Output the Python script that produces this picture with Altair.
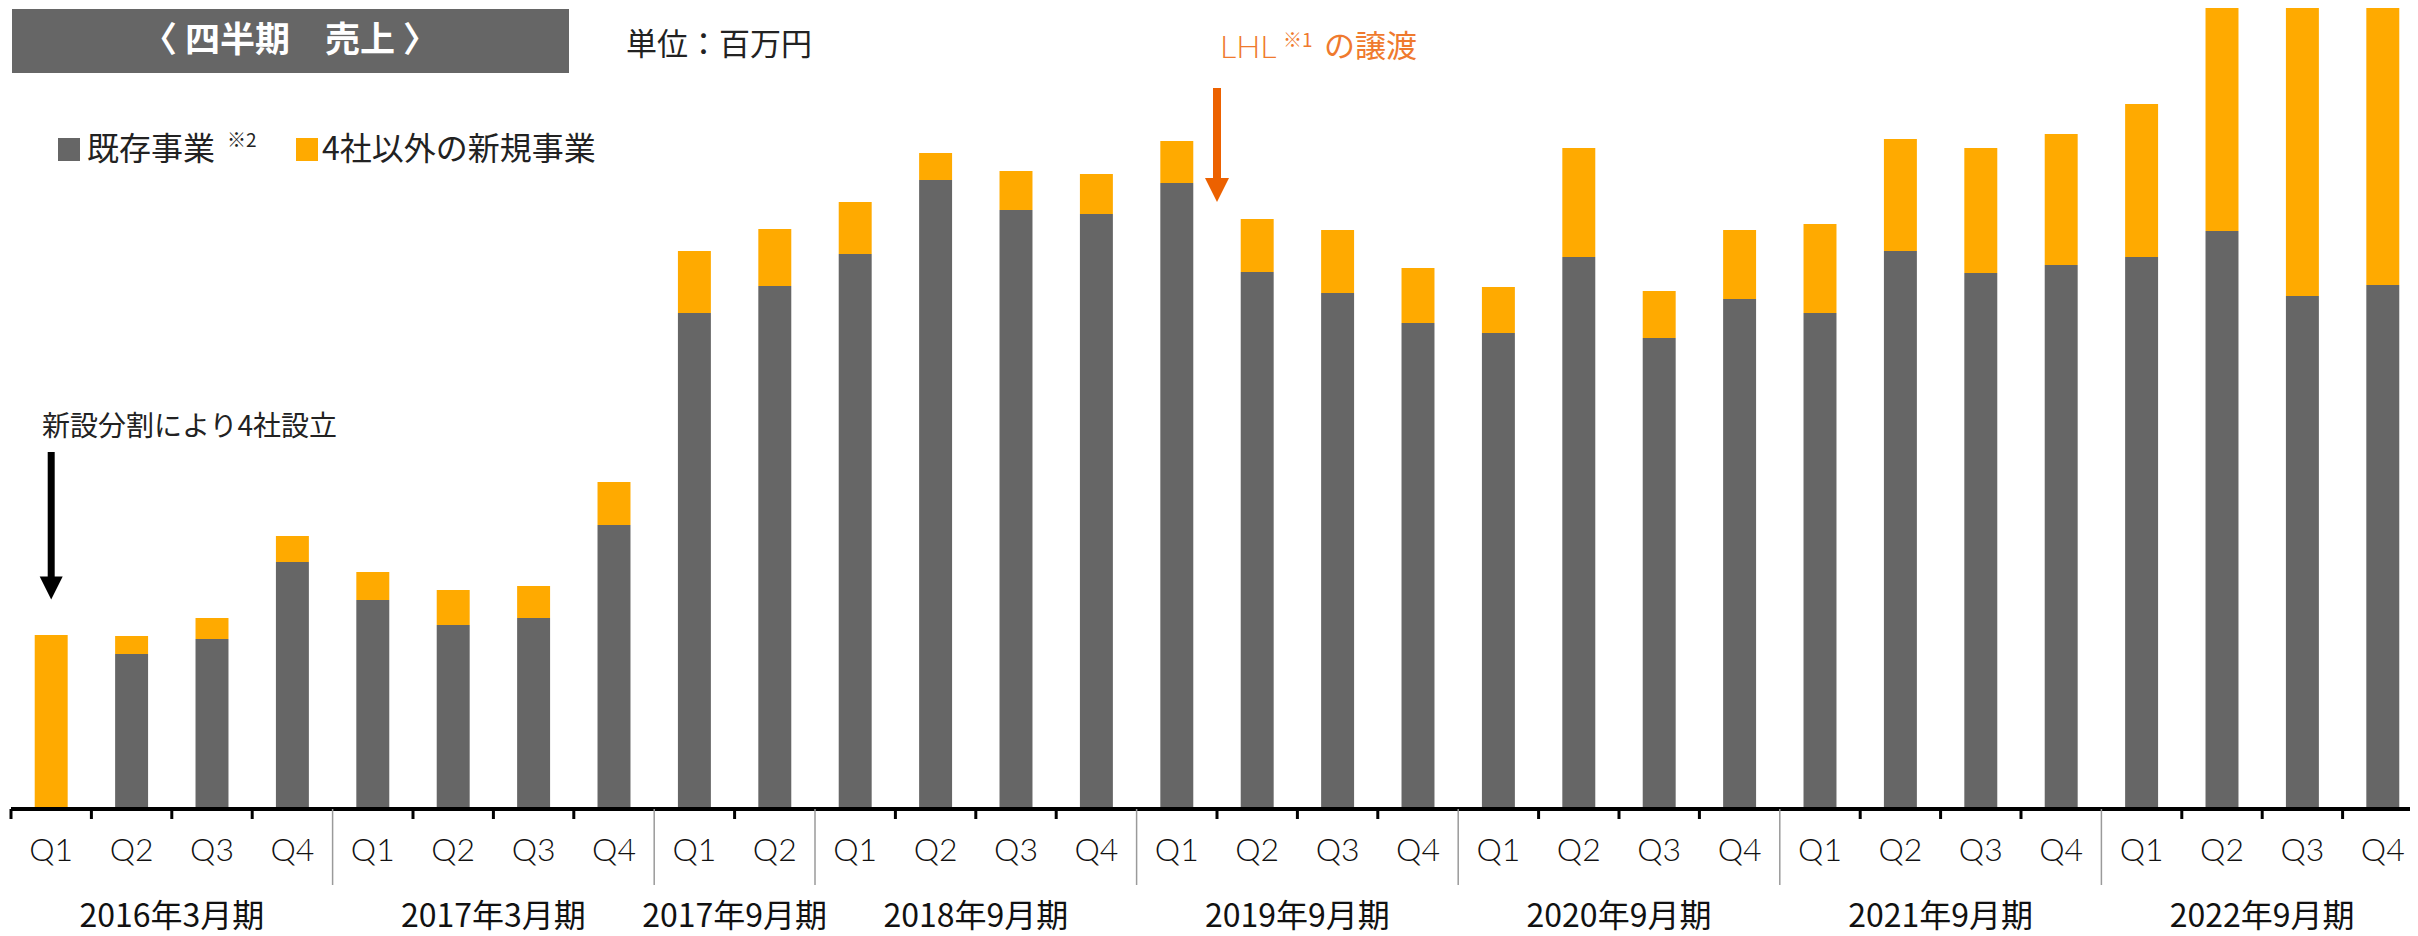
import altair as alt
import pandas as pd

# ---- data -------------------------------------------------------------
periods = (["2016年3月期"] * 4 + ["2017年3月期"] * 4 + ["2017年9月期"] * 2 +
           ["2018年9月期"] * 4 + ["2019年9月期"] * 4 + ["2020年9月期"] * 4 +
           ["2021年9月期"] * 4 + ["2022年9月期"] * 4)
quarters = (["Q1", "Q2", "Q3", "Q4"] * 2 + ["Q1", "Q2"] + ["Q1", "Q2", "Q3", "Q4"] * 5)
existing = [0, 153, 168, 245, 207, 182, 189, 282, 494, 521, 553, 627, 597, 593, 624,
            535, 514, 484, 474, 550, 469, 508, 494, 556, 534, 542, 550, 576, 511, 522]
new_biz = [172, 18, 21, 26, 28, 35, 32, 43, 62, 57, 52, 27, 39, 40, 42,
           53, 63, 55, 46, 109, 47, 69, 89, 112, 125, 131, 153, 300, 360, 380]
series_names = ["既存事業", "4社以外の新規事業"]
group_names = ["2016年3月期", "2017年3月期", "2017年9月期", "2018年9月期",
               "2019年9月期", "2020年9月期", "2021年9月期", "2022年9月期"]

keys = [f"{p} {q}" for p, q in zip(periods, quarters)]

rows = []
for k, e, n in zip(keys, existing, new_biz):
    rows.append({"key": k, "series": series_names[0], "value": e, "ord": 0})
    rows.append({"key": k, "series": series_names[1], "value": n, "ord": 1})
bars_df = pd.DataFrame(rows)

qdf = pd.DataFrame({"key": keys, "q": quarters})

# group start keys / label anchors (centre of each group = boundary at its middle)
group_start = []
group_anchor = []
for g in group_names:
    idx = [i for i, p in enumerate(periods) if p == g]
    group_start.append(keys[idx[0]])
    group_anchor.append(keys[idx[0] + len(idx) // 2])
glabel_df = pd.DataFrame({"label": group_names, "anchor": group_anchor})
sep_df = pd.DataFrame({"key": group_start[1:]})
tick_df = pd.DataFrame({"key": [k for k in keys if k not in group_start[1:]]})

W, H = 2399, 799
JP = "Noto Sans CJK JP"
LAT = "Lato"

xscale = alt.Scale(domain=keys, range=[0, 2412], paddingInner=0, paddingOuter=0)
one = pd.DataFrame({"a": [0]})

bars = alt.Chart(bars_df).mark_bar(clip=True, width=alt.RelativeBandSize(0.41)).encode(
    x=alt.X("key:N", scale=xscale, axis=None, sort=None),
    y=alt.Y("value:Q", stack="zero", scale=alt.Scale(domain=[0, H], nice=False), axis=None),
    color=alt.Color("series:N", scale=alt.Scale(domain=series_names, range=["#666666", "#FFAA00"]), legend=None),
    order=alt.Order("ord:Q"),
)

axis_line = alt.Chart(one).mark_rule(color="#000000", strokeWidth=4).encode(
    x=alt.value(0), x2=alt.value(W + 6), y=alt.value(H + 2))

ticks = alt.Chart(tick_df).mark_rule(color="#000000", strokeWidth=3).encode(
    x=alt.X("key:N", scale=xscale, axis=None, bandPosition=0),
    y=alt.value(H + 2), y2=alt.value(H + 12))

seps = alt.Chart(sep_df).mark_rule(color="#9a9a9a", strokeWidth=1.5).encode(
    x=alt.X("key:N", scale=xscale, axis=None, bandPosition=0),
    y=alt.value(H + 2), y2=alt.value(H + 78))

qlabels = alt.Chart(qdf).mark_text(font=LAT, fontWeight=300, fontSize=32, color="#111111",
                                   baseline="middle", align="center").encode(
    x=alt.X("key:N", scale=xscale, axis=None),
    y=alt.value(H + 44), text="q:N")

glabels = alt.Chart(glabel_df).mark_text(font=JP, fontSize=32, color="#111111",
                                         baseline="middle", align="center").encode(
    x=alt.X("anchor:N", scale=xscale, axis=None, bandPosition=0),
    y=alt.value(H + 110), text="label:N")

# title box
title_rect = alt.Chart(one).mark_rect(color="#666666").encode(
    x=alt.value(1), x2=alt.value(558), y=alt.value(1), y2=alt.value(65))
title_text = alt.Chart(one).mark_text(text="〈 四半期　売上 〉", font=JP, fontWeight="bold", fontSize=35,
                                      color="#ffffff", baseline="middle", align="center").encode(
    x=alt.value(279), y=alt.value(33))
unit_text = alt.Chart(one).mark_text(text="単位：百万円", font=JP, fontSize=31, color="#222222",
                                     baseline="middle", align="left").encode(
    x=alt.value(615), y=alt.value(38))

# legend
leg_sq1 = alt.Chart(one).mark_rect(color="#666666").encode(
    x=alt.value(47), x2=alt.value(69), y=alt.value(130), y2=alt.value(153))
leg_t1 = alt.Chart(one).mark_text(text="既存事業", font=JP, fontSize=32, color="#222222",
                                  baseline="middle", align="left").encode(x=alt.value(76), y=alt.value(142))
leg_t1s = alt.Chart(one).mark_text(text="※2", font=JP, fontSize=19, color="#222222",
                                   baseline="middle", align="left").encode(x=alt.value(216), y=alt.value(133))
leg_sq2 = alt.Chart(one).mark_rect(color="#FFAA00").encode(
    x=alt.value(285), x2=alt.value(307), y=alt.value(130), y2=alt.value(153))
leg_t2 = alt.Chart(one).mark_text(text="4社以外の新規事業", font=JP, fontSize=32, color="#222222",
                                  baseline="middle", align="left").encode(x=alt.value(311), y=alt.value(142))

# annotation: 新設分割
ann1 = alt.Chart(one).mark_text(text="新設分割により4社設立", font=JP, fontSize=28, color="#222222",
                                baseline="middle", align="left").encode(x=alt.value(31), y=alt.value(420))
arrow1_df = pd.DataFrame({"key": [keys[0]]})
arrow1_shaft = alt.Chart(arrow1_df).mark_rule(color="#000000", strokeWidth=7).encode(
    x=alt.X("key:N", scale=xscale, axis=None), y=alt.value(444), y2=alt.value(572))
arrow1_head = alt.Chart(arrow1_df).mark_point(shape="M-1,-1L1,-1L0,1Z", filled=True, size=529,
                                              color="#000000", opacity=1).encode(
    x=alt.X("key:N", scale=xscale, axis=None), y=alt.value(580))

# annotation: LHL
ORG_T = "#EF7A2E"
ORG_A = "#EC6100"
lhl1 = alt.Chart(one).mark_text(text="LHL", font=LAT, fontWeight=300, fontSize=32, color=ORG_T,
                                baseline="middle", align="left").encode(x=alt.value(1209), y=alt.value(40))
lhl2 = alt.Chart(one).mark_text(text="※1", font=JP, fontSize=19, color=ORG_T,
                                baseline="middle", align="left").encode(x=alt.value(1272), y=alt.value(33))
lhl3 = alt.Chart(one).mark_text(text="の譲渡", font=JP, fontSize=31, color=ORG_T,
                                baseline="middle", align="left").encode(x=alt.value(1313), y=alt.value(40))
arrow2_df = pd.DataFrame({"key": [keys[15]]})
arrow2_shaft = alt.Chart(arrow2_df).mark_rule(color=ORG_A, strokeWidth=8).encode(
    x=alt.X("key:N", scale=xscale, axis=None, bandPosition=0), y=alt.value(80), y2=alt.value(172))
arrow2_head = alt.Chart(arrow2_df).mark_point(shape="M-1,-1L1,-1L0,1Z", filled=True, size=576,
                                              color=ORG_A, opacity=1).encode(
    x=alt.X("key:N", scale=xscale, axis=None, bandPosition=0), y=alt.value(182))

chart = alt.layer(
    bars, axis_line, ticks, seps, qlabels, glabels,
    title_rect, title_text, unit_text,
    leg_sq1, leg_t1, leg_t1s, leg_sq2, leg_t2,
    ann1, arrow1_shaft, arrow1_head,
    lhl1, lhl2, lhl3, arrow2_shaft, arrow2_head,
).properties(
    width=W, height=H,
    padding={"left": 3, "top": 0, "right": 0, "bottom": 130},
    autosize=alt.AutoSizeParams(type="none"),
).configure_view(stroke=None)

chart.save("out.html", embed_options={"renderer": "svg", "actions": False})
